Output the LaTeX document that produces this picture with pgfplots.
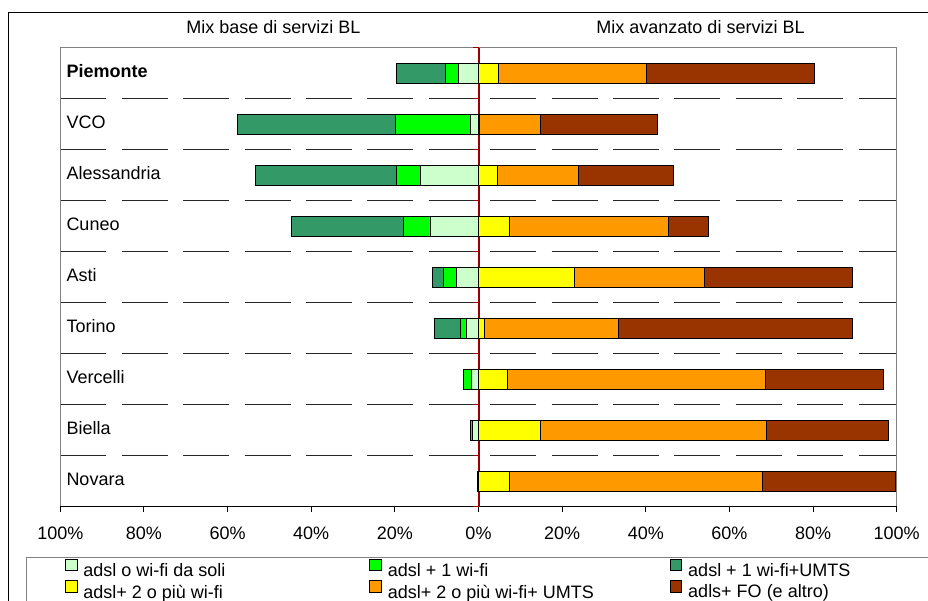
\documentclass[border=0pt]{standalone}
\usepackage{fontspec}
\setmainfont{Liberation Sans}
\usepackage{pgfplots}
\usepackage{pgfplotstable}
\pgfplotsset{compat=1.18}

\definecolor{cLight}{HTML}{CCFFCC}
\definecolor{cGreen}{HTML}{00FF00}
\definecolor{cDark}{HTML}{339966}
\definecolor{cYellow}{HTML}{FFFF00}
\definecolor{cOrange}{HTML}{FF9900}
\definecolor{cBrown}{HTML}{993300}
\definecolor{cAxis}{HTML}{990000}
\definecolor{cFrame}{HTML}{808080}

% Quote per provincia: a sinistra il mix base, a destra il mix avanzato (%)
\pgfplotstableread{
y  name        light green dark yellow orange brown
8  Piemonte     4.9   3.1  11.6  4.7   35.5   40.2
7  VCO          2.0  17.9  37.7  0.3   14.6   27.8
6  Alessandria 13.8   5.8  33.8  4.4   19.6   22.6
5  Cuneo       11.6   6.3  26.9  7.5   37.9    9.6
4  Asti         5.3   3.2   2.6 22.9   31.1   35.3
3  Torino       3.0   1.4   6.1  1.5   32.0   56.0
2  Vercelli     1.7   1.9   0.0  7.0   61.7   28.0
1  Biella       1.5   0.5   0.0 14.9   54.0   29.2
0  Novara       0.3   0.0   0.0  7.5   60.4   31.9
}\mixdata

\pgfplotsset{
  mixbar/.style={fill=#1, draw=black, line width=0.8pt,
    legend image code/.code={\draw[fill=#1, draw=black, line width=0.8pt] (0pt,0pt) rectangle (11.6pt,11.6pt);}},
}

\begin{document}
\begin{tikzpicture}[font=\fontsize{18}{21.6}\selectfont]
\useasboundingbox (0pt,0pt) rectangle (928pt,601pt);
% cornice esterna e riquadro della legenda
\draw[black, line width=1pt] (8pt,588pt) rectangle (940pt,-10pt);
\draw[cFrame, line width=1pt] (26pt,43.7pt) rectangle (940pt,-10pt);

\begin{axis}[
  at={(60.3pt,94.3pt)}, anchor=south west,
  scale only axis, width=836.4pt, height=459pt,
  xbar stacked, bar width=20pt,
  xmin=-100, xmax=100, ymin=-0.5, ymax=8.5,
  axis line style={cFrame, line width=1pt},
  xtick={-100,-80,...,100},
  xticklabels={100\%,80\%,60\%,40\%,20\%,0\%,20\%,40\%,60\%,80\%,100\%},
  xtick pos=lower, xtick align=outside, major tick length=5pt,
  xtick style={black, line width=1pt},
  xticklabel style={font=\fontsize{18}{21.6}\selectfont, yshift=-12pt},
  ytick={0,...,8},
  yticklabels={Novara,Biella,Vercelli,Torino,Asti,Cuneo,Alessandria,VCO,\textbf{Piemonte}},
  ytick style={draw=none},
  yticklabel style={anchor=west, inner sep=0pt, xshift=6pt, yshift=2pt, font=\fontsize{18}{21.6}\selectfont},
  minor ytick={0.5,1.5,...,7.5},
  yminorgrids=true,
  minor grid style={black!85, line width=1pt, dash pattern=on 46pt off 15.4pt},
  legend columns=3,
  legend cell align=left,
  legend style={at={(axis description cs:0,0)}, anchor=north west,
    xshift=4.4pt, yshift=-52pt, draw=none, fill=none,
    inner xsep=0pt, inner ysep=0pt,
    font=\fontsize{18}{21.6}\selectfont,
    /tikz/every odd column/.style={column sep=4pt},
    /tikz/column 2/.style={column sep=142pt},
    /tikz/column 4/.style={column sep=74pt}},
  clip=false,
]
% mix base, verso sinistra (le quote negative formano una pila a parte)
\addplot[mixbar=cLight] table[y=y, x expr=-\thisrow{light}] {\mixdata};
\addlegendentry{adsl o wi-fi da soli}
\addplot[mixbar=cGreen] table[y=y, x expr=-\thisrow{green}] {\mixdata};
\addlegendentry{adsl + 1 wi-fi}
\addplot[mixbar=cDark] table[y=y, x expr=-\thisrow{dark}] {\mixdata};
\addlegendentry{adsl + 1 wi-fi+UMTS}
% mix avanzato, verso destra
\addplot[mixbar=cYellow] table[y=y, x=yellow] {\mixdata};
\addlegendentry{adsl+ 2 o più wi-fi}
\addplot[mixbar=cOrange] table[y=y, x=orange] {\mixdata};
\addlegendentry{adsl+ 2 o più wi-fi+ UMTS}
\addplot[mixbar=cBrown] table[y=y, x=brown] {\mixdata};
\addlegendentry{adls+ FO (e altro)}
% linea dello zero con le tacche delle categorie
\draw[cAxis, line width=2pt] (axis cs:0,-0.5) -- (axis cs:0,8.5);
\pgfplotsinvokeforeach{-0.5,0.5,1.5,2.5,3.5,4.5,5.5,6.5,7.5,8.5}{
  \draw[cAxis, line width=1.5pt] (axis cs:0,#1) -- (axis cs:-1.2,#1);
}
% asse dei valori in basso
\draw[black, line width=1pt] (axis cs:-100,-0.5) -- (axis cs:100,-0.5);
\end{axis}

\node at (273.5pt,574.3pt) {Mix base di servizi BL};
\node at (700.5pt,574.3pt) {Mix avanzato di servizi BL};
\end{tikzpicture}
\end{document}
